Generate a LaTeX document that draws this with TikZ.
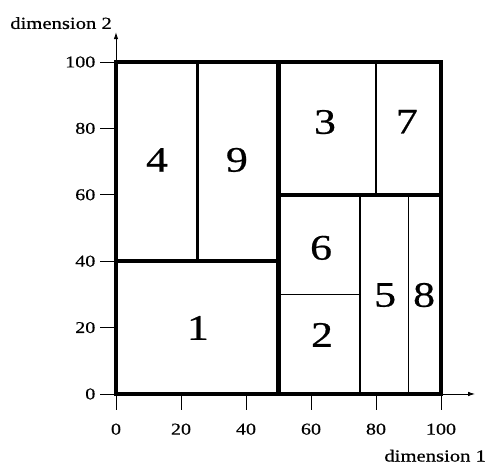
\documentclass[tikz,border=0pt]{standalone}
\usepackage{fontspec}
\setmainfont[FakeStretch=1.22,FakeBold=0.6]{Liberation Serif}
\usetikzlibrary{arrows.meta}
\begin{document}
\begin{tikzpicture}[x=3.25bp,y=3.32bp,
  axisline/.style={line width=0.9bp,-{Latex[length=7bp,width=4.5bp]}},
  tickline/.style={line width=0.9bp},
  ticklab/.style={font=\fontsize{16.5}{18}\selectfont,inner sep=0pt},
  dimlab/.style={font=\fontsize{17}{19}\selectfont,inner sep=0pt},
  cellnum/.style={font=\fontsize{36}{40}\selectfont,inner sep=0pt},
  outerbox/.style={line width=3.6bp},
  heavyline/.style={line width=5.5bp},
  midline/.style={line width=3.4bp},
  thinline/.style={line width=2.4bp},
  hairline/.style={line width=1.4bp},
  fineline/.style={line width=1bp}]
\useasboundingbox (-35.69,-21.69) rectangle (114.46,118.67);
% axes
\coordinate (O) at (0,0);
\coordinate (xend) at (110.5,0);
\coordinate (yend) at (0,109);
\draw[axisline] (O) -- (xend);
\draw[axisline] (O) -- (yend);
% ticks
\foreach \v in {0,20,...,100} {
  \coordinate (xt\v) at (\v,0);
  \coordinate (xb\v) at (\v,-4.8);
  \draw[tickline] (xt\v) -- (xb\v);
  \node[ticklab] (xl\v) at (\v,-10.6) {\v};
  \coordinate (yt\v) at (0,\v);
  \coordinate (yb\v) at (-5,\v);
  \draw[tickline] (yt\v) -- (yb\v);
  \node[ticklab,anchor=east] (yl\v) at (-6.3,\v) {\v};
}
\node[dimlab] (d2) at (-16.9,111.7) {dimension 2};
\node[dimlab,anchor=east] (d1) at (113.9,-18.6) {dimension 1};
% partition
\draw[fineline] (90,0) -- (90,60);
\draw[hairline] (50,30) -- (75,30);
\draw[thinline] (75,0) -- (75,60);
\draw[thinline] (80,60) -- (80,100);
\draw[midline] (25,40) -- (25,100);
\draw[midline] (0,40) -- (50,40);
\draw[outerbox] (50,60) -- (100,60);
\draw[heavyline] (50,0) -- (50,100);
\draw[outerbox] (0,0) rectangle (100,100);
% cell numbers
\node[cellnum] (c4) at (12.6,70.5) {4};
\node[cellnum] (c9) at (37.2,70.5) {9};
\node[cellnum] (c1) at (25.2,19.9) {1};
\node[cellnum] (c3) at (64.3,81.9) {3};
\node[cellnum] (c7) at (89.5,82) {7};
\node[cellnum] (c6) at (63.1,44) {6};
\node[cellnum] (c2) at (63.4,17.8) {2};
\node[cellnum] (c5) at (82.8,29.8) {5};
\node[cellnum] (c8) at (94.8,29.8) {8};
\end{tikzpicture}
\end{document}
